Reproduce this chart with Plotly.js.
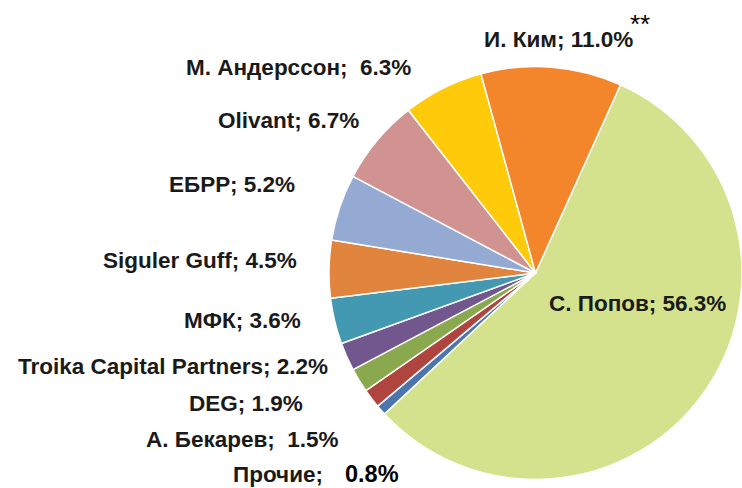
<!DOCTYPE html>
<html>
<head>
<meta charset="utf-8">
<script src="https://cdn.plot.ly/plotly-3.0.1.min.js"></script>
<style>html,body{margin:0;padding:0;background:#fff;overflow:hidden}</style>
</head>
<body>
<div id="chart" style="width:742px;height:488px"></div>
<script>
var names = ["С. Попов", "Прочие", "А. Бекарев", "DEG", "Troika Capital Partners", "МФК", "Siguler Guff", "ЕБРР", "Olivant", "М. Андерссон", "И. Ким"];
var shares = [56.3, 0.8, 1.5, 1.9, 2.2, 3.6, 4.5, 5.2, 6.7, 6.3, 11.0];
var labelTexts = ["С. Попов; 56.3%", "Прочие;", "А. Бекарев;  1.5%", "DEG; 1.9%", "Troika Capital Partners; 2.2%", "МФК; 3.6%", "Siguler Guff; 4.5%", "ЕБРР; 5.2%", "Olivant; 6.7%", "М. Андерссон;  6.3%", "И. Ким; 11.0%"];
var colors = ["#d4e28e", "#4a75ae", "#b0443f", "#8aa84e", "#72578f", "#4399b2", "#e0843e", "#94aad2", "#d09391", "#ffca0a", "#f3852a"];

// label anchor positions in pixels (x, y from top), and anchors
var labelPos = [
  [637, 303, "center"],
  [325, 474, "right"],
  [341, 439, "right"],
  [305, 403, "right"],
  [330, 366, "right"],
  [303, 320, "right"],
  [299, 260, "right"],
  [297, 185, "right"],
  [361, 120, "right"],
  [413, 67, "right"],
  [558, 40, "center"]
];

var W = 742, H = 488;
var font = "'Liberation Sans', Arial, sans-serif";
var annotations = labelPos.map(function (p, i) {
  return {
    text: "<b>" + labelTexts[i] + "</b>",
    x: p[0] / W, y: 1 - p[1] / H, xref: "paper", yref: "paper",
    xanchor: p[2], yanchor: "middle", showarrow: false,
    font: {family: font, size: 22.5, color: "#1a1a1a"}
  };
});
annotations.push({
  text: "<b>0.8%</b>", x: 343 / W, y: 1 - 474 / H, xref: "paper", yref: "paper",
  xanchor: "left", yanchor: "middle", showarrow: false,
  font: {family: font, size: 23.5, color: "#000"}
});
annotations.push({
  text: "**", x: 640 / W, y: 1 - 24 / H, xref: "paper", yref: "paper",
  xanchor: "center", yanchor: "middle", showarrow: false,
  font: {family: font, size: 26, color: "#000"}
});

var trace = {
  type: "pie",
  labels: names,
  values: shares,
  sort: false,
  direction: "clockwise",
  rotation: 24.3,
  textinfo: "none",
  hoverinfo: "label+percent",
  marker: {colors: colors, line: {color: "#ffffff", width: 1.5}},
  domain: {x: [0.4434, 1.0], y: [0.0174, 0.8637]},
  showlegend: false
};

Plotly.newPlot("chart", [trace], {
  width: W, height: H,
  margin: {l: 0, r: 0, t: 0, b: 0},
  paper_bgcolor: "#fff",
  showlegend: false,
  annotations: annotations
}, {displayModeBar: false, staticPlot: true});
</script>
</body>
</html>
